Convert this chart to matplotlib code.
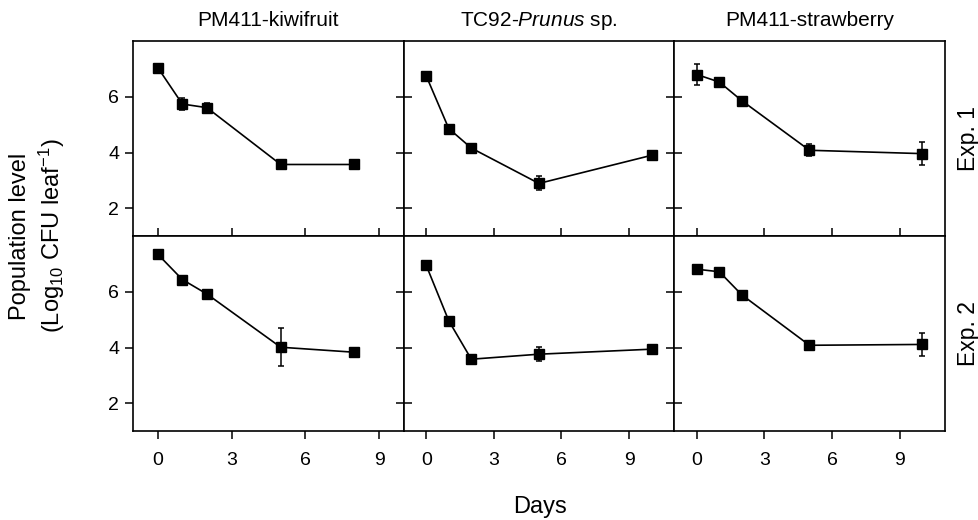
import matplotlib
matplotlib.use("Agg")
import matplotlib.pyplot as plt
import numpy as np

plt.rcParams['font.family'] = ['Liberation Sans', 'DejaVu Sans']
plt.rcParams['mathtext.fontset'] = 'custom'
plt.rcParams['mathtext.rm'] = 'Liberation Sans'
plt.rcParams['mathtext.it'] = 'Liberation Sans:italic'

# column titles and row labels
titles = ['PM411-kiwifruit', 'TC92-$\\it{Prunus}$ sp.', 'PM411-strawberry']
rows = ['Exp. 1', 'Exp. 2']

# days sampled per column
days_kiwi = [0, 1, 2, 5, 8]
days_prunus = [0, 1, 2, 5, 10]
days_straw = [0, 1, 2, 5, 10]

# Exp. 1 means and errors
exp1_kiwi = [7.05, 5.74, 5.61, 3.57, 3.57]
exp1_kiwi_err = [0.08, 0.22, 0.15, 0.05, 0.05]
exp1_prunus = [6.75, 4.86, 4.16, 2.89, 3.90]
exp1_prunus_err = [0.12, 0.12, 0.05, 0.25, 0.12]
exp1_straw = [6.80, 6.53, 5.86, 4.08, 3.96]
exp1_straw_err = [0.37, 0.05, 0.05, 0.22, 0.40]

# Exp. 2 means and errors
exp2_kiwi = [7.35, 6.44, 5.92, 4.01, 3.83]
exp2_kiwi_err = [0.05, 0.05, 0.05, 0.68, 0.05]
exp2_prunus = [6.95, 4.96, 3.58, 3.76, 3.94]
exp2_prunus_err = [0.05, 0.05, 0.05, 0.25, 0.10]
exp2_straw = [6.81, 6.72, 5.89, 4.08, 4.11]
exp2_straw_err = [0.12, 0.08, 0.05, 0.05, 0.42]

days = [days_kiwi, days_prunus, days_straw]
means = [[exp1_kiwi, exp1_prunus, exp1_straw], [exp2_kiwi, exp2_prunus, exp2_straw]]
errs = [[exp1_kiwi_err, exp1_prunus_err, exp1_straw_err],
        [exp2_kiwi_err, exp2_prunus_err, exp2_straw_err]]
xlims = [(-1, 10), (-1, 11), (-1, 11)]

fig, axes = plt.subplots(2, 3, figsize=(9.79, 5.20), dpi=100)
fig.subplots_adjust(left=0.136, right=0.965, top=0.921, bottom=0.171, wspace=0, hspace=0)

for r in range(2):
    for c in range(3):
        ax = axes[r, c]
        ax.errorbar(days[c], means[r][c], yerr=errs[r][c], color='black', lw=1.2,
                    marker='s', ms=7, capsize=2.5, elinewidth=1.1, capthick=1.1)
        ax.set_xlim(xlims[c])
        ax.set_ylim(1, 8)
        ax.set_xticks([0, 3, 6, 9])
        ax.set_yticks([2, 4, 6])
        for s in ax.spines.values():
            s.set_linewidth(1.2)
        # y ticks
        if c == 0:
            ax.tick_params(axis='y', direction='out', left=True, right=False,
                           length=6, width=1.1, labelsize=14, pad=4)
        else:
            ax.tick_params(axis='y', direction='inout', left=True, right=False,
                           length=11, width=1.1, labelleft=False)
        # x ticks
        if r == 0:
            ax.tick_params(axis='x', direction='inout', bottom=True, top=False,
                           length=11, width=1.1, labelbottom=False)
        else:
            ax.tick_params(axis='x', direction='out', bottom=True, top=False,
                           length=6, width=1.1, labelsize=14, pad=9)
        if r == 0:
            ax.set_title(titles[c], fontsize=15, pad=11)

fig.text(0.989, 0.733, rows[0], rotation=90, fontsize=16.5, ha='center', va='center')
fig.text(0.989, 0.358, rows[1], rotation=90, fontsize=16.5, ha='center', va='center')
fig.text(0.039, 0.546, 'Population level\n(Log$_{10}$ CFU leaf$^{-1}$)', rotation=90,
         fontsize=17, ha='center', va='center', linespacing=1.25)
fig.text(0.552, 0.025, 'Days', fontsize=17, ha='center', va='center')

fig.savefig('out.png', dpi=100)
